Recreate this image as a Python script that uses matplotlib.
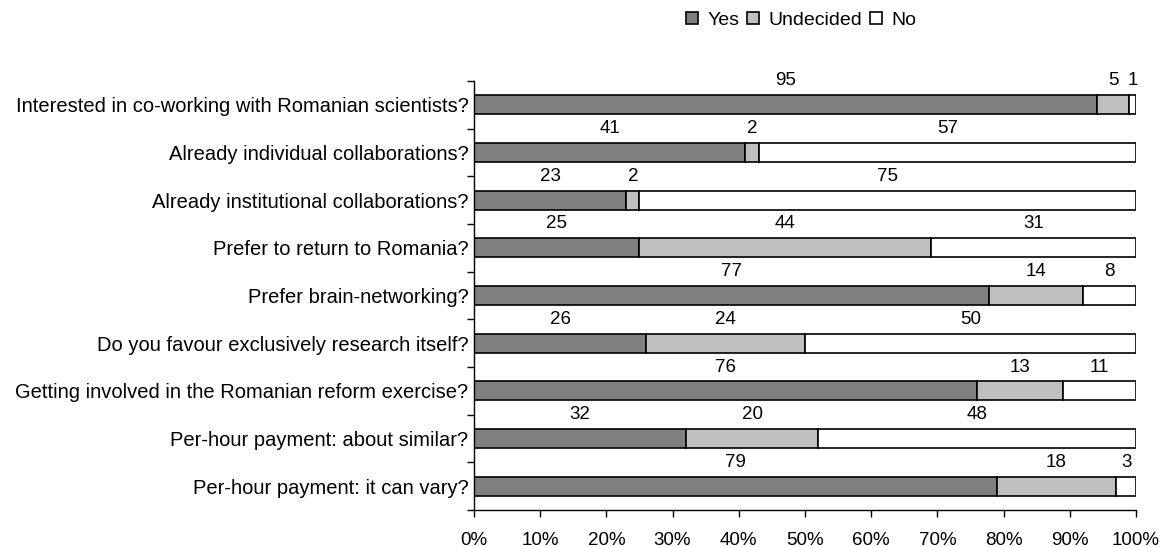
import numpy as np
import matplotlib
matplotlib.use('Agg')
import matplotlib.pyplot as plt

plt.rcParams['font.family'] = ['Liberation Sans', 'DejaVu Sans']

questions = ['Interested in co-working with Romanian scientists?',
             'Already individual collaborations?',
             'Already institutional collaborations?',
             'Prefer to return to Romania?',
             'Prefer brain-networking?',
             'Do you favour exclusively research itself?',
             'Getting involved in the Romanian reform exercise?',
             'Per-hour payment: about similar?',
             'Per-hour payment: it can vary?']
yes = [95, 41, 23, 25, 77, 26, 76, 32, 79]
undecided = [5, 2, 2, 44, 14, 24, 13, 20, 18]
no = [1, 57, 75, 31, 8, 50, 11, 48, 3]

series = [('Yes', yes, '#808080'), ('Undecided', undecided, '#c0c0c0'), ('No', no, '#ffffff')]

totals = np.array(yes) + np.array(undecided) + np.array(no)
y = np.arange(len(questions))

fig = plt.figure(figsize=(11.68, 5.47), dpi=100)
ax = fig.add_axes([0.4058, 0.0676, 0.9726 - 0.4058, 0.852 - 0.0676])

left = np.zeros(len(questions))
bh = 0.4
for name, vals, col in series:
    pct = np.array(vals) / totals * 100
    ax.barh(y, pct, left=left, height=bh, color=col, edgecolor='black', linewidth=1.2, label=name)
    for i in range(len(questions)):
        ax.text(left[i] + pct[i] / 2, y[i] - bh / 2 - 0.30, str(vals[i]),
                ha='center', va='center', fontsize=13.5)
    left += pct

ax.set_xlim(0, 100)
ax.set_ylim(len(questions) - 0.5, -0.5)
ax.set_xticks(np.arange(0, 101, 10))
ax.set_xticklabels(['%d%%' % v for v in range(0, 101, 10)], fontsize=13.5)
ax.set_yticks(y)
ax.set_yticklabels(questions, fontsize=14.5)
ax.tick_params(axis='y', length=0, pad=4)
ax.set_yticks(np.arange(-0.5, len(questions) + 0.5, 1), minor=True)
ax.tick_params(axis='y', which='minor', length=5, width=1)
ax.tick_params(axis='x', length=5, width=1, pad=11)
for s in ['top', 'right']:
    ax.spines[s].set_visible(False)
for s in ['left', 'bottom']:
    ax.spines[s].set_linewidth(1)

ax.legend(loc='center', bbox_to_anchor=(0.686, 0.963), bbox_transform=fig.transFigure,
          ncol=3, frameon=False, fontsize=14, handlelength=0.6, handleheight=0.6,
          handletextpad=0.5, columnspacing=0.4, borderpad=0)

fig.savefig('out.png', dpi=100)
